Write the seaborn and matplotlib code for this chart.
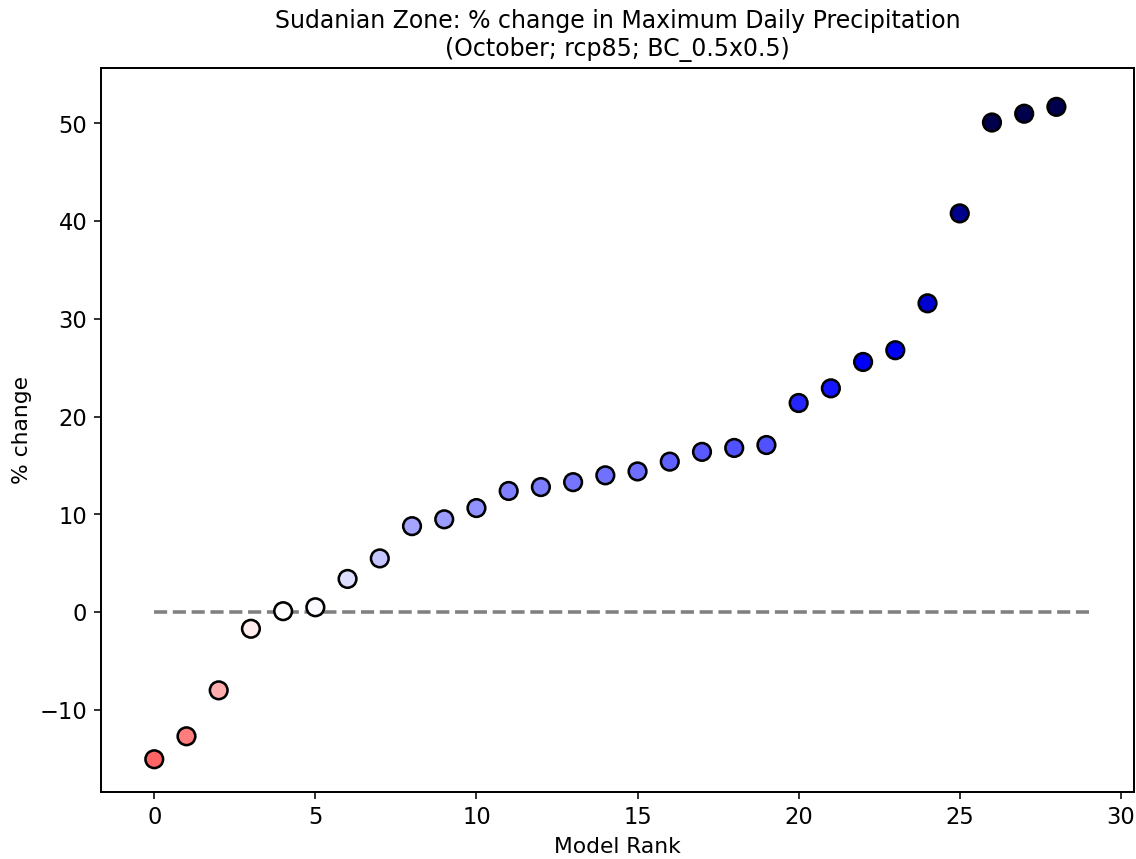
#!/usr/bin/env python3
import matplotlib
matplotlib.use('Agg')
import matplotlib.pyplot as plt
import numpy as np
import pandas as pd
import seaborn as sns

# % change per model, sorted (model rank 0..28)
rank = list(range(29))
pct_change = [-15.05, -12.7, -8.0, -1.7, 0.1, 0.5, 3.4, 5.5, 8.8, 9.5,
              10.65, 12.4, 12.8, 13.3, 14.0, 14.4, 15.4, 16.4, 16.8, 17.1,
              21.4, 22.9, 25.6, 26.8, 31.6, 40.8, 50.1, 51.0, 51.7]

df = pd.DataFrame({'rank': rank, 'pct': pct_change})

sns.set_style('ticks')
plt.rcParams['font.family'] = ['DejaVu Sans']
plt.rcParams['axes.edgecolor'] = 'black'
plt.rcParams['xtick.color'] = 'black'
plt.rcParams['ytick.color'] = 'black'
plt.rcParams['axes.labelcolor'] = 'black'
plt.rcParams['text.color'] = 'black'

fig, ax = plt.subplots(figsize=(8, 6.05), dpi=142)
fig.subplots_adjust(left=0.089, right=0.998, top=0.921, bottom=0.078)

ax.plot([0, len(rank)], [0, 0], '--', color='grey', linewidth=1.8, zorder=1)
sns.scatterplot(data=df, x='rank', y='pct', hue='pct', palette='seismic_r',
                hue_norm=(-50, 50), s=80, edgecolor='black', linewidth=1.3,
                legend=False, ax=ax, zorder=2)

ax.set_xlim(-1.65, 30.4)
ax.set_ylim(-18.4, 55.7)
ax.set_xlabel('Model Rank', fontsize=11)
ax.set_ylabel('% change', fontsize=11)
ax.tick_params(labelsize=11.5)
ax.set_title('Sudanian Zone: % change in Maximum Daily Precipitation\n(October; rcp85; BC_0.5x0.5)',
             fontsize=12)
for sp in ax.spines.values():
    sp.set_linewidth(1.0)

plt.savefig('out.png', dpi=142)
plt.close('all')
